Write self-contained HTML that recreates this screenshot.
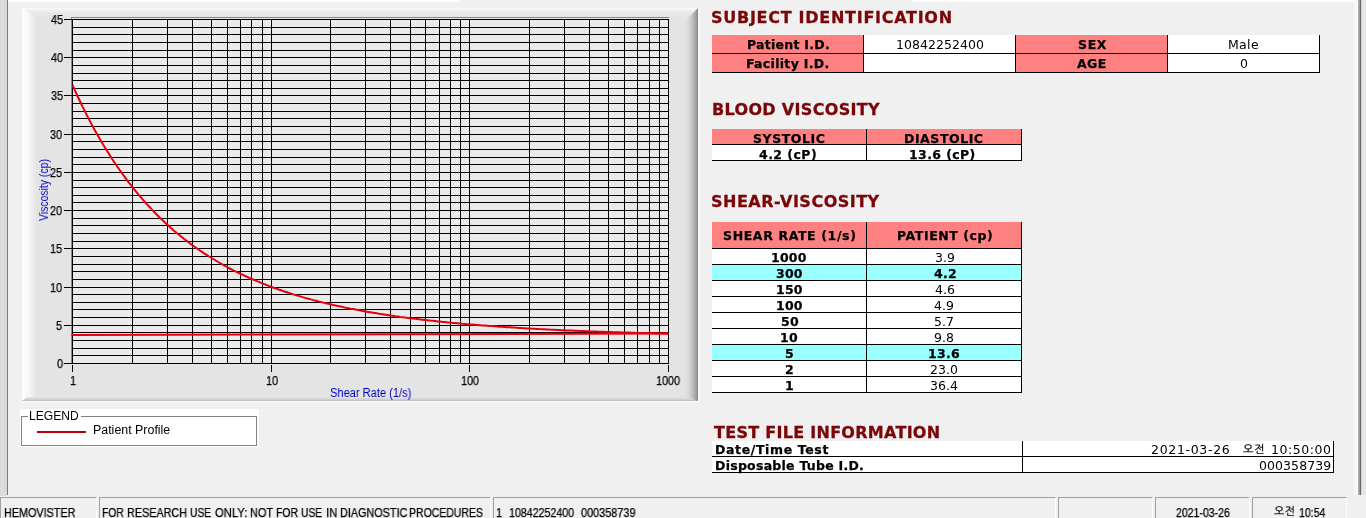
<!DOCTYPE html>
<html lang="ko"><head><meta charset="utf-8"><title>HEMOVISTER</title>
<style>
html,body{margin:0;padding:0;}
body{width:1366px;height:518px;overflow:hidden;background:#f0f0f0;position:relative;font-family:"Liberation Sans","NanumGothic",sans-serif;font-size:12px;color:#000;}
.abs{position:absolute;}
.t{position:absolute;white-space:nowrap;transform-origin:0 50%;line-height:1;display:block;will-change:transform;}
.hd{font:bold 16px/1 "DejaVu Sans","Liberation Sans",sans-serif;color:#7a0608;-webkit-text-stroke:0.3px #7a0608;}
.vb{font:bold 12.5px/1 "DejaVu Sans","Liberation Sans",sans-serif;-webkit-text-stroke:0.25px #000;}
.vr{font:normal 12.5px/1 "DejaVu Sans","Liberation Sans",sans-serif;}
.kr{font:normal 11px/1 "Liberation Sans","NanumGothic","Noto Sans CJK KR",sans-serif;will-change:transform;-webkit-text-stroke:0.25px #000;}
.kr2{font:normal 11px/1 "Liberation Sans","NanumGothic","Noto Sans CJK KR",sans-serif;will-change:transform;-webkit-text-stroke:0.2px #000;}
.ar{font:normal 12px/1 "Liberation Sans","NanumGothic",sans-serif;will-change:transform;-webkit-text-stroke:0.25px #000;}
.al{font:normal 12px/1 "Liberation Sans","NanumGothic",sans-serif;}
.ab{font:normal 12px/1 "Liberation Sans","NanumGothic",sans-serif;color:#0000c4;will-change:transform;}
.leftedge{left:0;top:0;width:7px;height:496px;background:linear-gradient(90deg,#d8d8d8 0,#dedede 3px,#d6d6d6 4px,#dcdcdc 7px);}
.leftline{left:7px;top:0;width:1px;height:495px;background:#7a7a7a;}
.topstrip{left:8px;top:0;height:2px;background:#fcfcfc;}
.rightedge{left:1354px;top:0;width:12px;height:495px;background:linear-gradient(90deg,#f8f8f8 0,#f8f8f8 4px,#b0b0b0 4px,#b0b0b0 5px,#9c9c9c 5px,#9c9c9c 6px,#666 6px,#666 7px,#d4d4d4 7px,#d4d4d4 8px,#e6e6e6 8px,#e6e6e6 12px);}
.panel{left:22px;top:8px;width:676px;height:393px;background:#e4e4e4;}
.panel .bl{position:absolute;left:0;top:0;width:15px;height:100%;background:linear-gradient(90deg,#fdfdfd 0,#f8f8f8 6px,#ececec 11px,#e4e4e4 15px);clip-path:polygon(0 0,100% 9px,100% 100%,0 100%);}
.panel .bt{position:absolute;left:0;top:0;width:100%;height:10px;background:linear-gradient(180deg,#fafafa 0,#f1f1f1 2px,#e9e9e9 5px,#e4e4e4 9px);}
.panel .br{position:absolute;right:0;top:0;width:14px;height:100%;background:linear-gradient(90deg,#e4e4e4 0,#dcdcdc 4px,#c4c4c4 8px,#a0a0a0 12px,#848484 14px);clip-path:polygon(100% 0,100% 100%,0 calc(100% - 5px),0 14px);}
.panel .bb{position:absolute;left:0;bottom:0;width:100%;height:5px;background:linear-gradient(180deg,#e4e4e4 0,#d6d6d6 2px,#bcbcbc 4px,#a0a0a0 5px);clip-path:polygon(5px 0,100% 0,100% 100%,0 100%);height:4px;}
.chart{position:absolute;left:0;top:0;}
.legendbg{left:20px;top:409px;width:239px;height:38px;background:#fff;}
.legend{left:21px;top:416px;width:236px;height:30px;border:1px solid #828282;box-sizing:border-box;}
.legmask{left:28px;top:416px;width:53px;height:1px;background:#fff;}
.legline{left:37px;top:431px;width:49px;height:2px;background:#b8000c;}
.c{position:absolute;box-sizing:border-box;border-right:1px solid #000;border-bottom:1px solid #000;}
.ln{position:absolute;background:#000;}
.sp{position:absolute;top:497px;height:21px;box-sizing:border-box;border-top:1px solid #a0a0a0;border-left:1px solid #a0a0a0;border-right:1px solid #fff;}
</style></head><body>
<div class="abs leftedge"></div><div class="abs leftline"></div>
<div class="abs topstrip" style="width:452px"></div><div class="abs topstrip" style="left:911px;width:443px"></div>
<div class="abs rightedge"></div>
<div class="abs panel"><div class="bt"></div><div class="bl"></div><div class="bb"></div><div class="br"></div></div>
<svg class="chart" width="700" height="410" viewBox="0 0 700 410">
<rect x="72" y="19" width="597" height="345" fill="#eaeaea"/>
<g stroke="#8a8a8a" stroke-width="1" shape-rendering="crispEdges"><line x1="71" y1="17.5" x2="669" y2="17.5"/><line x1="71.5" y1="17" x2="71.5" y2="364"/></g>
<g stroke="#000" stroke-width="1" shape-rendering="crispEdges">
<line x1="72.0" y1="363.5" x2="669.0" y2="363.5"/><line x1="72.0" y1="355.5" x2="669.0" y2="355.5"/><line x1="72.0" y1="348.5" x2="669.0" y2="348.5"/><line x1="72.0" y1="340.5" x2="669.0" y2="340.5"/><line x1="72.0" y1="332.5" x2="669.0" y2="332.5"/><line x1="72.0" y1="325.5" x2="669.0" y2="325.5"/><line x1="72.0" y1="317.5" x2="669.0" y2="317.5"/><line x1="72.0" y1="309.5" x2="669.0" y2="309.5"/><line x1="72.0" y1="302.5" x2="669.0" y2="302.5"/><line x1="72.0" y1="294.5" x2="669.0" y2="294.5"/><line x1="72.0" y1="287.5" x2="669.0" y2="287.5"/><line x1="72.0" y1="279.5" x2="669.0" y2="279.5"/><line x1="72.0" y1="271.5" x2="669.0" y2="271.5"/><line x1="72.0" y1="264.5" x2="669.0" y2="264.5"/><line x1="72.0" y1="256.5" x2="669.0" y2="256.5"/><line x1="72.0" y1="248.5" x2="669.0" y2="248.5"/><line x1="72.0" y1="241.5" x2="669.0" y2="241.5"/><line x1="72.0" y1="233.5" x2="669.0" y2="233.5"/><line x1="72.0" y1="225.5" x2="669.0" y2="225.5"/><line x1="72.0" y1="218.5" x2="669.0" y2="218.5"/><line x1="72.0" y1="210.5" x2="669.0" y2="210.5"/><line x1="72.0" y1="202.5" x2="669.0" y2="202.5"/><line x1="72.0" y1="195.5" x2="669.0" y2="195.5"/><line x1="72.0" y1="187.5" x2="669.0" y2="187.5"/><line x1="72.0" y1="180.5" x2="669.0" y2="180.5"/><line x1="72.0" y1="172.5" x2="669.0" y2="172.5"/><line x1="72.0" y1="164.5" x2="669.0" y2="164.5"/><line x1="72.0" y1="157.5" x2="669.0" y2="157.5"/><line x1="72.0" y1="149.5" x2="669.0" y2="149.5"/><line x1="72.0" y1="141.5" x2="669.0" y2="141.5"/><line x1="72.0" y1="134.5" x2="669.0" y2="134.5"/><line x1="72.0" y1="126.5" x2="669.0" y2="126.5"/><line x1="72.0" y1="118.5" x2="669.0" y2="118.5"/><line x1="72.0" y1="111.5" x2="669.0" y2="111.5"/><line x1="72.0" y1="103.5" x2="669.0" y2="103.5"/><line x1="72.0" y1="95.5" x2="669.0" y2="95.5"/><line x1="72.0" y1="88.5" x2="669.0" y2="88.5"/><line x1="72.0" y1="80.5" x2="669.0" y2="80.5"/><line x1="72.0" y1="73.5" x2="669.0" y2="73.5"/><line x1="72.0" y1="65.5" x2="669.0" y2="65.5"/><line x1="72.0" y1="57.5" x2="669.0" y2="57.5"/><line x1="72.0" y1="50.5" x2="669.0" y2="50.5"/><line x1="72.0" y1="42.5" x2="669.0" y2="42.5"/><line x1="72.0" y1="34.5" x2="669.0" y2="34.5"/><line x1="72.0" y1="27.5" x2="669.0" y2="27.5"/><line x1="72.0" y1="19.5" x2="669.0" y2="19.5"/><line x1="72.5" y1="19.0" x2="72.5" y2="364.0"/><line x1="132.5" y1="19.0" x2="132.5" y2="364.0"/><line x1="167.5" y1="19.0" x2="167.5" y2="364.0"/><line x1="192.5" y1="19.0" x2="192.5" y2="364.0"/><line x1="211.5" y1="19.0" x2="211.5" y2="364.0"/><line x1="227.5" y1="19.0" x2="227.5" y2="364.0"/><line x1="240.5" y1="19.0" x2="240.5" y2="364.0"/><line x1="251.5" y1="19.0" x2="251.5" y2="364.0"/><line x1="262.5" y1="19.0" x2="262.5" y2="364.0"/><line x1="271.5" y1="19.0" x2="271.5" y2="364.0"/><line x1="330.5" y1="19.0" x2="330.5" y2="364.0"/><line x1="365.5" y1="19.0" x2="365.5" y2="364.0"/><line x1="390.5" y1="19.0" x2="390.5" y2="364.0"/><line x1="410.5" y1="19.0" x2="410.5" y2="364.0"/><line x1="425.5" y1="19.0" x2="425.5" y2="364.0"/><line x1="439.5" y1="19.0" x2="439.5" y2="364.0"/><line x1="450.5" y1="19.0" x2="450.5" y2="364.0"/><line x1="460.5" y1="19.0" x2="460.5" y2="364.0"/><line x1="469.5" y1="19.0" x2="469.5" y2="364.0"/><line x1="529.5" y1="19.0" x2="529.5" y2="364.0"/><line x1="564.5" y1="19.0" x2="564.5" y2="364.0"/><line x1="589.5" y1="19.0" x2="589.5" y2="364.0"/><line x1="608.5" y1="19.0" x2="608.5" y2="364.0"/><line x1="624.5" y1="19.0" x2="624.5" y2="364.0"/><line x1="637.5" y1="19.0" x2="637.5" y2="364.0"/><line x1="649.5" y1="19.0" x2="649.5" y2="364.0"/><line x1="659.5" y1="19.0" x2="659.5" y2="364.0"/><line x1="668.5" y1="19.0" x2="668.5" y2="364.0"/>
<line x1="64" y1="363.5" x2="72" y2="363.5"/><line x1="64" y1="325.5" x2="72" y2="325.5"/><line x1="64" y1="287.5" x2="72" y2="287.5"/><line x1="64" y1="248.5" x2="72" y2="248.5"/><line x1="64" y1="210.5" x2="72" y2="210.5"/><line x1="64" y1="172.5" x2="72" y2="172.5"/><line x1="64" y1="134.5" x2="72" y2="134.5"/><line x1="64" y1="95.5" x2="72" y2="95.5"/><line x1="64" y1="57.5" x2="72" y2="57.5"/><line x1="64" y1="19.5" x2="72" y2="19.5"/><line x1="72.5" y1="365" x2="72.5" y2="372"/><line x1="271.5" y1="365" x2="271.5" y2="372"/><line x1="469.5" y1="365" x2="469.5" y2="372"/><line x1="668.5" y1="365" x2="668.5" y2="372"/>
</g>
<polyline points="72.5,85.2 75.0,90.7 77.5,96.1 80.0,101.3 82.4,106.4 84.9,111.4 87.4,116.3 89.9,121.1 92.4,125.7 94.8,130.2 97.3,134.6 99.8,139.0 102.3,143.2 104.8,147.3 107.3,151.3 109.8,155.2 112.2,159.1 114.7,162.8 117.2,166.5 119.7,170.0 122.2,173.5 124.7,176.9 127.1,180.3 129.6,183.5 132.1,186.7 134.6,189.8 137.1,192.8 139.6,195.8 142.0,198.7 144.5,201.5 147.0,204.3 149.5,207.0 152.0,209.6 154.4,212.2 156.9,214.7 159.4,217.2 161.9,219.6 164.4,222.0 166.9,224.3 169.4,226.5 171.8,228.7 174.3,230.9 176.8,233.0 179.3,235.0 181.8,237.0 184.2,239.0 186.7,240.9 189.2,242.8 191.7,244.7 194.2,246.5 196.7,248.2 199.1,250.0 201.6,251.6 204.1,253.3 206.6,254.9 209.1,256.5 211.6,258.0 214.1,259.5 216.5,261.0 219.0,262.5 221.5,263.9 224.0,265.3 226.5,266.6 228.9,268.0 231.4,269.3 233.9,270.6 236.4,271.8 238.9,273.0 241.4,274.2 243.9,275.4 246.3,276.5 248.8,277.7 251.3,278.8 253.8,279.8 256.3,280.9 258.8,281.9 261.2,282.9 263.7,283.9 266.2,284.9 268.7,285.9 271.2,286.8 273.6,287.7 276.1,288.6 278.6,289.5 281.1,290.3 283.6,291.2 286.1,292.0 288.5,292.8 291.0,293.6 293.5,294.4 296.0,295.2 298.5,295.9 301.0,296.6 303.5,297.4 305.9,298.1 308.4,298.8 310.9,299.4 313.4,300.1 315.9,300.7 318.4,301.4 320.8,302.0 323.3,302.6 325.8,303.2 328.3,303.8 330.8,304.4 333.2,305.0 335.7,305.5 338.2,306.1 340.7,306.6 343.2,307.1 345.7,307.7 348.1,308.2 350.6,308.7 353.1,309.1 355.6,309.6 358.1,310.1 360.6,310.6 363.1,311.0 365.5,311.5 368.0,311.9 370.5,312.3 373.0,312.7 375.5,313.1 377.9,313.6 380.4,314.0 382.9,314.3 385.4,314.7 387.9,315.1 390.4,315.5 392.9,315.8 395.3,316.2 397.8,316.5 400.3,316.9 402.8,317.2 405.3,317.6 407.8,317.9 410.2,318.2 412.7,318.5 415.2,318.8 417.7,319.1 420.2,319.4 422.7,319.7 425.1,320.0 427.6,320.3 430.1,320.6 432.6,320.8 435.1,321.1 437.5,321.4 440.0,321.6 442.5,321.9 445.0,322.1 447.5,322.4 450.0,322.6 452.5,322.9 454.9,323.1 457.4,323.3 459.9,323.5 462.4,323.8 464.9,324.0 467.3,324.2 469.8,324.4 472.3,324.6 474.8,324.8 477.3,325.0 479.8,325.2 482.2,325.4 484.7,325.6 487.2,325.8 489.7,326.0 492.2,326.1 494.7,326.3 497.2,326.5 499.6,326.7 502.1,326.8 504.6,327.0 507.1,327.2 509.6,327.3 512.0,327.5 514.5,327.6 517.0,327.8 519.5,327.9 522.0,328.1 524.5,328.2 527.0,328.4 529.4,328.5 531.9,328.7 534.4,328.8 536.9,328.9 539.4,329.1 541.8,329.2 544.3,329.3 546.8,329.4 549.3,329.6 551.8,329.7 554.3,329.8 556.8,329.9 559.2,330.0 561.7,330.2 564.2,330.3 566.7,330.4 569.2,330.5 571.7,330.6 574.1,330.7 576.6,330.8 579.1,330.9 581.6,331.0 584.1,331.1 586.5,331.2 589.0,331.3 591.5,331.4 594.0,331.5 596.5,331.6 599.0,331.7 601.5,331.8 603.9,331.8 606.4,331.9 608.9,332.0 611.4,332.1 613.9,332.2 616.4,332.3 618.8,332.3 621.3,332.4 623.8,332.5 626.3,332.6 628.8,332.6 631.2,332.7 633.7,332.8 636.2,332.9 638.7,332.9 641.2,333.0 643.7,333.1 646.1,333.1 648.6,333.2 651.1,333.3 653.6,333.3 656.1,333.4 658.6,333.4 661.0,333.5 663.5,333.6 666.0,333.6 668.5,333.7" fill="none" stroke="#e6000e" stroke-width="2" stroke-linejoin="round"/>
<line x1="71.5" y1="335.1" x2="668.5" y2="333.5" stroke="#e6000e" stroke-width="2"/>
</svg>
<div class="abs" style="left:22px;top:401px;width:678px;height:2px;background:#f7f7f7"></div><div class="abs" style="left:698px;top:10px;width:2px;height:392px;background:#f7f7f7"></div>
<div class="abs legendbg"></div>
<div class="abs legend"></div>
<div class="abs legmask"></div>
<div class="abs legline"></div>
<div class="c" style="left:712px;top:35px;width:152px;height:19px;background:#ff8080;"></div>
<div class="c" style="left:864px;top:35px;width:152px;height:19px;background:#fff;"></div>
<div class="c" style="left:1016px;top:35px;width:152px;height:19px;background:#ff8080;"></div>
<div class="c" style="left:1168px;top:35px;width:152px;height:19px;background:#fff;"></div>
<div class="c" style="left:712px;top:54px;width:152px;height:19px;background:#ff8080;"></div>
<div class="c" style="left:864px;top:54px;width:152px;height:19px;background:#fff;"></div>
<div class="c" style="left:1016px;top:54px;width:152px;height:19px;background:#ff8080;"></div>
<div class="c" style="left:1168px;top:54px;width:152px;height:19px;background:#fff;"></div>
<div class="c" style="left:712px;top:129px;width:155px;height:16px;background:#ff8080;"></div>
<div class="c" style="left:867px;top:129px;width:155px;height:16px;background:#ff8080;"></div>
<div class="c" style="left:712px;top:145px;width:155px;height:16px;background:#fff;"></div>
<div class="c" style="left:867px;top:145px;width:155px;height:16px;background:#fff;"></div>
<div class="c" style="left:712px;top:222px;width:155px;height:27px;background:#ff8080;"></div>
<div class="c" style="left:867px;top:222px;width:155px;height:27px;background:#ff8080;"></div>
<div class="c" style="left:712px;top:249px;width:155px;height:16px;background:#fff;"></div>
<div class="c" style="left:867px;top:249px;width:155px;height:16px;background:#fff;"></div>
<div class="c" style="left:712px;top:265px;width:155px;height:16px;background:#99ffff;"></div>
<div class="c" style="left:867px;top:265px;width:155px;height:16px;background:#99ffff;"></div>
<div class="c" style="left:712px;top:281px;width:155px;height:16px;background:#fff;"></div>
<div class="c" style="left:867px;top:281px;width:155px;height:16px;background:#fff;"></div>
<div class="c" style="left:712px;top:297px;width:155px;height:16px;background:#fff;"></div>
<div class="c" style="left:867px;top:297px;width:155px;height:16px;background:#fff;"></div>
<div class="c" style="left:712px;top:313px;width:155px;height:16px;background:#fff;"></div>
<div class="c" style="left:867px;top:313px;width:155px;height:16px;background:#fff;"></div>
<div class="c" style="left:712px;top:329px;width:155px;height:16px;background:#fff;"></div>
<div class="c" style="left:867px;top:329px;width:155px;height:16px;background:#fff;"></div>
<div class="c" style="left:712px;top:345px;width:155px;height:16px;background:#99ffff;"></div>
<div class="c" style="left:867px;top:345px;width:155px;height:16px;background:#99ffff;"></div>
<div class="c" style="left:712px;top:361px;width:155px;height:16px;background:#fff;"></div>
<div class="c" style="left:867px;top:361px;width:155px;height:16px;background:#fff;"></div>
<div class="c" style="left:712px;top:377px;width:155px;height:16px;background:#fff;"></div>
<div class="c" style="left:867px;top:377px;width:155px;height:16px;background:#fff;"></div>
<div class="c" style="left:712px;top:441px;width:311px;height:16px;background:#fff;"></div>
<div class="c" style="left:1023px;top:441px;width:311px;height:16px;background:#fff;"></div>
<div class="c" style="left:712px;top:457px;width:311px;height:16px;background:#fff;"></div>
<div class="c" style="left:1023px;top:457px;width:311px;height:16px;background:#fff;"></div>
<div class="sp" style="left:0;width:97px"></div>
<div class="sp" style="left:99px;width:392px"></div>
<div class="sp" style="left:493px;width:563px"></div>
<div class="sp" style="left:1058px;width:95px"></div>
<div class="sp" style="left:1155px;width:95px"></div>
<div class="sp" style="left:1252px;width:95px"></div>
<span id="h1" class="t hd" style="left:710.95px;top:10.00px;letter-spacing:0.725px;">SUBJECT IDENTIFICATION</span>
<span id="h2" class="t hd" style="left:711.92px;top:102.00px;letter-spacing:0.332px;">BLOOD VISCOSITY</span>
<span id="h3" class="t hd" style="left:711.15px;top:194.00px;letter-spacing:0.500px;">SHEAR-VISCOSITY</span>
<span id="h4" class="t hd" style="left:713.60px;top:425.00px;letter-spacing:0.280px;">TEST FILE INFORMATION</span>
<span id="a1" class="t vb" style="left:746.77px;top:39.00px;letter-spacing:0.267px;">Patient I.D.</span>
<span id="a2" class="t vr" style="left:895.71px;top:38.81px;letter-spacing:0.045px;">10842252400</span>
<span id="a3" class="t vb" style="left:1078.04px;top:39.00px;letter-spacing:0.646px;">SEX</span>
<span id="a4" class="t vr" style="left:1228.07px;top:39.00px;letter-spacing:0.324px;">Male</span>
<span id="a5" class="t vb" style="left:745.73px;top:58.00px;letter-spacing:0.309px;">Facility I.D.</span>
<span id="a6" class="t vb" style="left:1076.80px;top:58.00px;letter-spacing:0.382px;">AGE</span>
<span id="a7" class="t vr" style="left:1239.77px;top:58.00px;">0</span>
<span id="b1" class="t vb" style="left:753.19px;top:133.21px;letter-spacing:0.551px;">SYSTOLIC</span>
<span id="b2" class="t vb" style="left:904.44px;top:133.21px;letter-spacing:0.545px;">DIASTOLIC</span>
<span id="b3" class="t vb" style="left:758.76px;top:149.21px;letter-spacing:0.452px;">4.2 (cP)</span>
<span id="b4" class="t vb" style="left:909.21px;top:149.21px;letter-spacing:0.389px;">13.6 (cP)</span>
<span id="c1" class="t vb" style="left:722.87px;top:230.00px;letter-spacing:0.623px;">SHEAR RATE (1/s)</span>
<span id="c2" class="t vb" style="left:896.81px;top:230.00px;letter-spacing:0.560px;">PATIENT (cp)</span>
<span id="d0a" class="t vb" style="left:771.21px;top:252.00px;letter-spacing:0.220px;">1000</span>
<span id="d0b" class="t vr" style="left:934.50px;top:252.00px;">3.9</span>
<span id="d1a" class="t vb" style="left:776.26px;top:268.00px;letter-spacing:0.220px;">300</span>
<span id="d1b" class="t vb" style="left:933.56px;top:268.00px;letter-spacing:0.300px;">4.2</span>
<span id="d2a" class="t vb" style="left:776.26px;top:284.00px;letter-spacing:0.220px;">150</span>
<span id="d2b" class="t vr" style="left:934.97px;top:284.00px;">4.6</span>
<span id="d3a" class="t vb" style="left:776.21px;top:300.00px;letter-spacing:0.220px;">100</span>
<span id="d3b" class="t vr" style="left:934.06px;top:300.00px;">4.9</span>
<span id="d4a" class="t vb" style="left:780.58px;top:316.00px;letter-spacing:0.220px;">50</span>
<span id="d4b" class="t vr" style="left:933.84px;top:316.00px;">5.7</span>
<span id="d5a" class="t vb" style="left:780.16px;top:332.00px;letter-spacing:0.220px;">10</span>
<span id="d5b" class="t vr" style="left:933.95px;top:332.00px;">9.8</span>
<span id="d6a" class="t vb" style="left:785.27px;top:348.00px;letter-spacing:0.220px;">5</span>
<span id="d6b" class="t vb" style="left:927.99px;top:348.00px;letter-spacing:0.300px;">13.6</span>
<span id="d7a" class="t vb" style="left:784.88px;top:364.00px;letter-spacing:0.220px;">2</span>
<span id="d7b" class="t vr" style="left:930.37px;top:364.00px;">23.0</span>
<span id="d8a" class="t vb" style="left:785.26px;top:380.00px;letter-spacing:0.220px;">1</span>
<span id="d8b" class="t vr" style="left:930.43px;top:380.00px;">36.4</span>
<span id="e1" class="t vb" style="left:714.65px;top:444.00px;letter-spacing:0.627px;">Date/Time Test</span>
<span id="e2" class="t vb" style="left:714.73px;top:460.00px;letter-spacing:0.259px;">Disposable Tube I.D.</span>
<span id="e3" class="t vr" style="left:1150.70px;top:443.71px;letter-spacing:0.679px;">2021-03-26</span>
<span id="e4" class="t kr" style="left:1243.45px;top:443.71px;letter-spacing:0.781px;">오전</span>
<span id="e5" class="t vr" style="left:1270.91px;top:443.71px;letter-spacing:0.556px;">10:50:00</span>
<span id="e6" class="t vr" style="left:1258.79px;top:459.71px;letter-spacing:0.074px;">000358739</span>
<span id="y0" class="t ar" style="left:56.65px;top:357.90px;transform:scaleX(0.9000);">0</span>
<span id="y5" class="t ar" style="left:56.31px;top:319.90px;transform:scaleX(0.9000);">5</span>
<span id="y10" class="t ar" style="left:49.70px;top:281.90px;transform:scaleX(0.9000);">10</span>
<span id="y15" class="t ar" style="left:49.98px;top:242.90px;transform:scaleX(0.9000);">15</span>
<span id="y20" class="t ar" style="left:50.02px;top:204.90px;transform:scaleX(0.9000);">20</span>
<span id="y25" class="t ar" style="left:50.44px;top:166.90px;transform:scaleX(0.9000);">25</span>
<span id="y30" class="t ar" style="left:50.30px;top:128.90px;transform:scaleX(0.9000);">30</span>
<span id="y35" class="t ar" style="left:50.52px;top:89.90px;transform:scaleX(0.9000);">35</span>
<span id="y40" class="t ar" style="left:50.61px;top:51.90px;transform:scaleX(0.9000);">40</span>
<span id="y45" class="t ar" style="left:50.65px;top:13.90px;transform:scaleX(0.9000);">45</span>
<span id="x0" class="t ar" style="left:69.58px;top:375.00px;transform:scaleX(0.9000);">1</span>
<span id="x1" class="t ar" style="left:265.62px;top:375.00px;transform:scaleX(0.9000);">10</span>
<span id="x2" class="t ar" style="left:460.64px;top:375.00px;transform:scaleX(0.9000);">100</span>
<span id="x3" class="t ar" style="left:656.12px;top:375.00px;transform:scaleX(0.9000);">1000</span>
<span id="xl" class="t ab" style="left:330.33px;top:387.00px;transform:scaleX(0.9241);">Shear Rate (1/s)</span>
<span id="lg" class="t al" style="left:29.43px;top:410.00px;transform:scaleX(1.0079);">LEGEND</span>
<span id="pp" class="t al" style="left:93.15px;top:423.81px;transform:scaleX(1.0339);">Patient Profile</span>
<span id="s1" class="t ar" style="left:3.95px;top:506.71px;transform:scaleX(0.9001);">HEMOVISTER</span>
<span id="s2_0" class="t ar" style="left:102.25px;top:506.70px;transform:scaleX(0.8555);">FOR</span>
<span id="s2_1" class="t ar" style="left:127.01px;top:506.70px;transform:scaleX(0.9005);">RESEARCH</span>
<span id="s2_2" class="t ar" style="left:190.12px;top:506.70px;transform:scaleX(0.8519);">USE</span>
<span id="s2_3" class="t ar" style="left:214.91px;top:506.70px;transform:scaleX(0.9366);">ONLY:</span>
<span id="s2_4" class="t ar" style="left:249.86px;top:506.70px;transform:scaleX(0.9081);">NOT</span>
<span id="s2_5" class="t ar" style="left:276.25px;top:506.70px;transform:scaleX(0.8684);">FOR</span>
<span id="s2_6" class="t ar" style="left:300.63px;top:506.70px;transform:scaleX(0.8523);">USE</span>
<span id="s2_7" class="t ar" style="left:326.26px;top:506.70px;transform:scaleX(0.9520);">IN</span>
<span id="s2_8" class="t ar" style="left:339.71px;top:506.70px;transform:scaleX(0.9023);">DIAGNOSTIC</span>
<span id="s2_9" class="t ar" style="left:409.48px;top:506.70px;transform:scaleX(0.8730);">PROCEDURES</span>
<span id="s3_0" class="t ar" style="left:496.32px;top:506.70px;transform:scaleX(0.9000);">1</span>
<span id="s3_1" class="t ar" style="left:509.30px;top:506.70px;transform:scaleX(0.8865);">10842252400</span>
<span id="s3_2" class="t ar" style="left:581.36px;top:506.70px;transform:scaleX(0.9067);">000358739</span>
<span id="s4" class="t ar" style="left:1175.58px;top:506.71px;transform:scaleX(0.8770);">2021-03-26</span>
<span id="s5" class="t kr2" style="left:1273.56px;top:506.40px;letter-spacing:0.164px;">오전</span>
<span id="s6" class="t ar" style="left:1298.69px;top:506.71px;transform:scaleX(0.8771);">10:54</span>
<span id="vl" class="t ab" style="left:37.50px;top:220.70px;transform-origin:0 0;transform:rotate(-90deg) scaleX(0.8700);">Viscosity (cp)</span>
<div class="ln" style="left:712px;top:53px;width:152px;height:1px"></div>
<div class="ln" style="left:864px;top:53px;width:152px;height:1px"></div>
<div class="ln" style="left:1016px;top:53px;width:152px;height:1px"></div>
<div class="ln" style="left:1168px;top:53px;width:152px;height:1px"></div>
<div class="ln" style="left:712px;top:72px;width:152px;height:1px"></div>
<div class="ln" style="left:864px;top:72px;width:152px;height:1px"></div>
<div class="ln" style="left:1016px;top:72px;width:152px;height:1px"></div>
<div class="ln" style="left:1168px;top:72px;width:152px;height:1px"></div>
<div class="ln" style="left:712px;top:144px;width:155px;height:1px"></div>
<div class="ln" style="left:867px;top:144px;width:155px;height:1px"></div>
<div class="ln" style="left:712px;top:160px;width:155px;height:1px"></div>
<div class="ln" style="left:867px;top:160px;width:155px;height:1px"></div>
<div class="ln" style="left:712px;top:248px;width:155px;height:1px"></div>
<div class="ln" style="left:867px;top:248px;width:155px;height:1px"></div>
<div class="ln" style="left:712px;top:264px;width:155px;height:1px"></div>
<div class="ln" style="left:867px;top:264px;width:155px;height:1px"></div>
<div class="ln" style="left:712px;top:280px;width:155px;height:1px"></div>
<div class="ln" style="left:867px;top:280px;width:155px;height:1px"></div>
<div class="ln" style="left:712px;top:296px;width:155px;height:1px"></div>
<div class="ln" style="left:867px;top:296px;width:155px;height:1px"></div>
<div class="ln" style="left:712px;top:312px;width:155px;height:1px"></div>
<div class="ln" style="left:867px;top:312px;width:155px;height:1px"></div>
<div class="ln" style="left:712px;top:328px;width:155px;height:1px"></div>
<div class="ln" style="left:867px;top:328px;width:155px;height:1px"></div>
<div class="ln" style="left:712px;top:344px;width:155px;height:1px"></div>
<div class="ln" style="left:867px;top:344px;width:155px;height:1px"></div>
<div class="ln" style="left:712px;top:360px;width:155px;height:1px"></div>
<div class="ln" style="left:867px;top:360px;width:155px;height:1px"></div>
<div class="ln" style="left:712px;top:376px;width:155px;height:1px"></div>
<div class="ln" style="left:867px;top:376px;width:155px;height:1px"></div>
<div class="ln" style="left:712px;top:392px;width:155px;height:1px"></div>
<div class="ln" style="left:867px;top:392px;width:155px;height:1px"></div>
<div class="ln" style="left:712px;top:456px;width:311px;height:1px"></div>
<div class="ln" style="left:1023px;top:456px;width:311px;height:1px"></div>
<div class="ln" style="left:712px;top:472px;width:311px;height:1px"></div>
<div class="ln" style="left:1023px;top:472px;width:311px;height:1px"></div>
</body></html>
